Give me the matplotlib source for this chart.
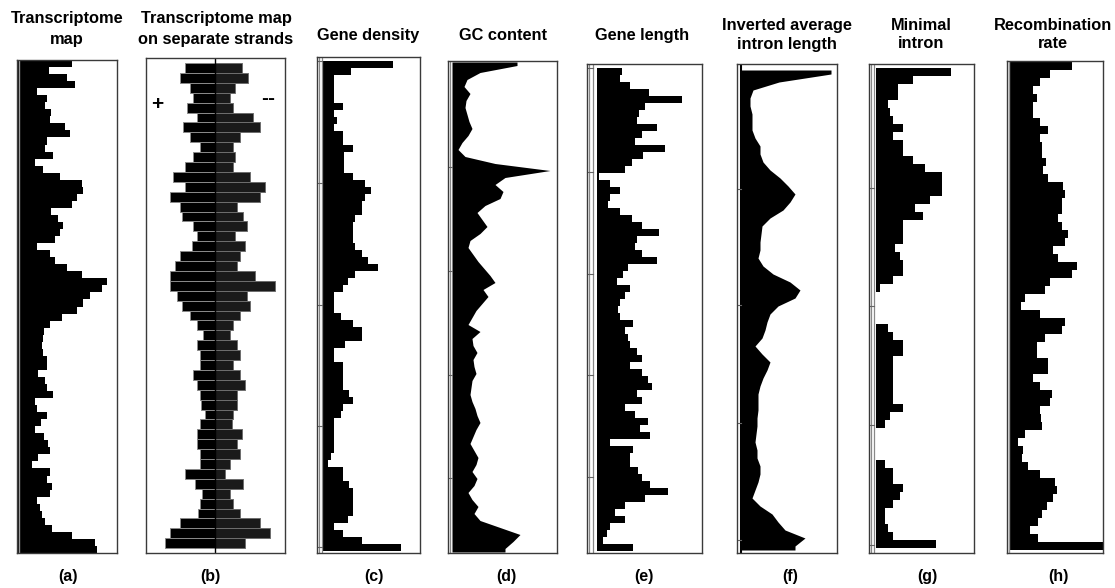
import numpy as np
import matplotlib.pyplot as plt

plt.rcParams['font.family'] = ['Liberation Sans', 'DejaVu Sans']

# profiles along the chromosome, top to bottom
a_transcriptome = [55, 32, 50, 58, 20, 30, 28, 34, 33, 48,
                   53, 30, 28, 36, 18, 26, 43, 65, 66, 60,
                   55, 34, 41, 46, 43, 38, 20, 33, 38, 50,
                   65, 90, 85, 73, 66, 60, 45, 33, 27, 26,
                   25, 26, 30, 30, 21, 28, 30, 36, 18, 20,
                   30, 24, 18, 27, 31, 33, 21, 15, 33, 30,
                   35, 33, 20, 23, 25, 28, 35, 55, 78, 80]

b_plus = [30, 35, 25, 22, 28, 18, 32, 25, 15, 22,
          30, 42, 30, 45, 35, 33, 22, 18, 23, 35,
          40, 45, 45, 38, 33, 25, 18, 12, 18, 15,
          15, 22, 18, 15, 14, 10, 15, 18, 18, 15,
          15, 30, 20, 13, 15, 17, 35, 45, 50]
b_minus = [27, 33, 20, 15, 18, 38, 45, 25, 18, 20,
           18, 35, 50, 45, 22, 28, 32, 20, 30, 25,
           22, 40, 60, 32, 35, 25, 18, 15, 22, 25,
           18, 25, 30, 22, 22, 18, 17, 27, 22, 25,
           15, 10, 28, 15, 18, 25, 45, 55, 30]

c_gene_density = [70, 28, 11, 11, 11, 11, 20, 11, 14, 11,
                  20, 20, 30, 21, 21, 21, 30, 42, 48, 42,
                  39, 39, 32, 30, 30, 30, 32, 39, 45, 55,
                  32, 25, 20, 11, 11, 11, 18, 30, 39, 39,
                  22, 11, 11, 20, 20, 20, 20, 26, 30, 20,
                  18, 11, 11, 11, 11, 11, 8, 5, 20, 20,
                  26, 30, 30, 30, 30, 25, 11, 20, 39, 78]

d_gc = [65, 28, 15, 12, 18, 14, 13, 15, 17, 20,
        16, 10, 6, 13, 43, 98, 53, 43, 51, 48,
        33, 25, 30, 35, 28, 18, 16, 21, 26, 32,
        38, 43, 31, 36, 30, 24, 20, 16, 28, 20,
        21, 25, 21, 22, 24, 20, 19, 18, 20, 23,
        25, 28, 24, 21, 18, 22, 26, 24, 20, 25,
        22, 16, 20, 26, 22, 28, 48, 68, 61, 53]

e_gene_length = [25, 23, 33, 52, 85, 48, 42, 40, 60, 45,
                 38, 68, 46, 35, 28, 2, 13, 23, 13, 11,
                 23, 35, 45, 62, 40, 38, 45, 60, 31, 26,
                 20, 33, 28, 23, 21, 23, 36, 28, 31, 33,
                 40, 45, 33, 45, 51, 55, 40, 45, 28, 38,
                 51, 43, 53, 13, 36, 33, 33, 41, 45, 53,
                 71, 48, 28, 18, 28, 13, 10, 6, 36]

f_inv_intron = [90, 38, 12, 9, 9, 11, 11, 11, 14, 19,
                19, 22, 29, 39, 47, 54, 49, 42, 29, 21,
                20, 19, 19, 17, 22, 32, 49, 59, 54, 37,
                29, 26, 24, 21, 14, 21, 29, 26, 22, 19,
                17, 17, 17, 16, 16, 15, 14, 16, 16, 19,
                19, 17, 14, 11, 19, 31, 37, 44, 64, 54]

g_min_intron = [75, 37, 22, 22, 12, 14, 17, 27, 17, 27,
                27, 37, 49, 66, 66, 66, 54, 39, 47, 27,
                27, 27, 19, 24, 27, 27, 17, 4, 0, 0,
                0, 0, 12, 17, 27, 27, 17, 17, 17, 17,
                17, 17, 27, 14, 9, 0, 0, 0, 0, 9,
                17, 17, 27, 24, 17, 9, 9, 12, 17, 60]

h_recomb = [62, 40, 30, 23, 27, 23, 23, 30, 38, 30,
            32, 32, 36, 33, 38, 53, 55, 52, 52, 48,
            52, 58, 55, 43, 48, 67, 62, 40, 35, 15,
            11, 30, 55, 52, 35, 27, 27, 38, 38, 23,
            30, 42, 40, 30, 31, 32, 15, 8, 13, 12,
            18, 30, 45, 47, 43, 37, 32, 28, 20, 28,
            93]

titles = ['Transcriptome\nmap', 'Transcriptome map\non separate strands',
          'Gene density', 'GC content', 'Gene length',
          'Inverted average\nintron length', 'Minimal\nintron', 'Recombination\nrate']
labels = ['(a)', '(b)', '(c)', '(d)', '(e)', '(f)', '(g)', '(h)']

W, H = 1115, 588
fig = plt.figure(figsize=(W / 100, H / 100), dpi=100)


def panel(box, ds, bh, xlim):
    x0, y0, x1, y1 = box
    ax = fig.add_axes([x0 / W, 1 - y1 / H, (x1 - x0) / W, (y1 - y0) / H])
    ax.set_xlim(*xlim)
    ax.set_ylim((y1 - ds) / bh, (y0 - ds) / bh)
    ax.set_xticks([])
    ax.set_yticks([])
    for s in ax.spines.values():
        s.set_color('#3a3a3a')
        s.set_linewidth(1.0)
    return ax


def bars(ax, vals):
    ax.barh(np.arange(len(vals)), vals, height=1, align='edge', color='black', linewidth=0)


def smooth(ax, vals):
    n = len(vals)
    rows = np.r_[0, np.arange(n) + 0.5, n]
    v = np.r_[vals[0], vals, vals[-1]]
    ax.fill_betweenx(rows, 0, v, color='black', linewidth=0)


def strip(ax, xs, ticks, ds, bh, x_from, x_to, color='#888888', lw=0.9):
    for x in xs:
        ax.axvline(x, color=color, lw=lw)
    for t in ticks:
        r = (t - ds) / bh
        ax.plot([x_from, x_to], [r, r], color='#666666', lw=0.8)


# (a)
ax = panel((17, 60, 117, 553), 60, 493 / 70, (0, 100))
bars(ax, a_transcriptome)
ax.axvline(1.5, color='#999999', lw=1)

# (b) two strands, + to the left and - to the right
ax = panel((146, 58, 285, 553), 63, 9.9, (-69, 70))
n = len(b_plus)
ax.barh(np.arange(n), [-v for v in b_plus], height=1, align='edge',
        color='black', edgecolor='#8a8a8a', linewidth=0.7)
ax.barh(np.arange(n), b_minus, height=1, align='edge',
        color='#1a1a1a', edgecolor='#6e6e6e', linewidth=0.7)
ax.axvline(0, color='black', lw=1)
ax.text(-58, (104 - 63) / 9.9, '+', ha='center', va='center', fontsize=15, fontweight='bold')
ax.text(53, (99 - 63) / 9.9, '--', ha='center', va='center', fontsize=15, fontweight='bold')

# (c)
ax = panel((317, 57, 420, 553), 61, 7, (-6, 97))
bars(ax, c_gene_density)
strip(ax, [-4.5, -1.5], [61, 183, 305, 426, 547], 61, 7, -6, -1.5)

# (d)
ax = panel((448, 61, 557, 553), 62, 7, (-4, 105))
smooth(ax, d_gc)
strip(ax, [-2], [167, 271, 375, 478], 62, 7, -4, 0)

# (e)
ax = panel((587, 64, 702, 553), 68, 7, (-10, 105))
bars(ax, e_gene_length)
strip(ax, [-8, -4], [68, 172, 274, 375, 477], 68, 7, -10, -4)

# (f)
ax = panel((737, 64, 837, 553), 70, 8, (-4, 96))
smooth(ax, f_inv_intron)
strip(ax, [0], [189, 305, 423, 540], 70, 8, -4, 0, color='black', lw=1.5)

# (g)
ax = panel((869, 64, 974, 553), 68, 8, (-7, 98))
bars(ax, g_min_intron)
strip(ax, [-5.5, -2.5], [188, 306, 425, 545], 68, 8, -7, -2.5)

# (h)
ax = panel((1007, 61, 1103, 553), 62, 8, (-3, 93))
bars(ax, h_recomb)
ax.axvline(-1, color='#999999', lw=1)

# titles and panel letters
title_x = [67, 216, 368, 503, 642, 787, 921, 1053]
title_base = [(23.5, 44), (23.5, 44), (40,), (40,), (40,), (30, 48.5), (30, 48.5), (30, 48.5)]
for t, x, yb in zip(titles, title_x, title_base):
    for line, y in zip(t.split('\n'), yb):
        fig.text(x / W, 1 - y / H, line, ha='center', va='baseline',
                 fontsize=11.8, fontweight='bold')

label_x = [68, 210, 374, 506, 644, 790, 927, 1058]
for lab, x in zip(labels, label_x):
    fig.text(x / W, 1 - 576 / H, lab, ha='center', va='center', fontsize=11.5, fontweight='bold')

fig.savefig('out.png', dpi=100)
